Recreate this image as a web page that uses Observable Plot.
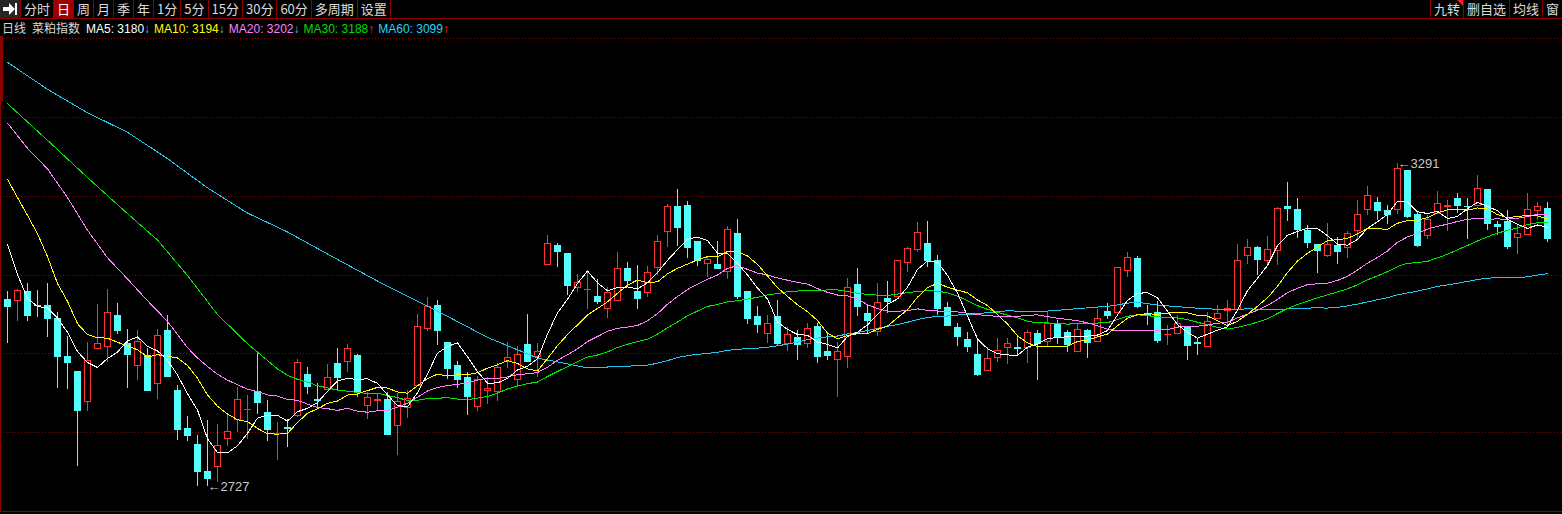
<!DOCTYPE html>
<html><head><meta charset="utf-8">
<script src="https://cdn.jsdelivr.net/npm/d3@7"></script>
<script src="https://cdn.jsdelivr.net/npm/@observablehq/plot@0.6"></script>
<style>
html,body{margin:0;padding:0;background:#000;width:1562px;height:514px;overflow:hidden;}
#toolbar{position:absolute;left:0;top:0;width:1562px;height:18px;border-bottom:1px solid #8c0000;box-sizing:content-box;font:13px "Noto Sans CJK SC","Liberation Sans",sans-serif;color:#dcdcdc;}
#tbLeft{position:absolute;left:0;top:0;height:18px;display:flex;}
#tbRight{position:absolute;right:0;top:0;height:18px;display:flex;}
.btn{height:18px;line-height:18px;padding:0 3px;border-right:1px solid #8c0000;white-space:nowrap;position:relative;}
.btn.sel{background:#a00000;color:#fff;}
#tbRight .btn{border-right:none;border-left:1px solid #8c0000;}
.tri{position:absolute;right:0;top:0;width:0;height:0;border-top:6px solid #ff2020;border-left:6px solid transparent;}
#legend{position:absolute;left:2px;top:19px;height:18px;line-height:18px;font:12px "Liberation Sans","Noto Sans CJK SC",sans-serif;color:#d8d8d8;white-space:nowrap;}
#legend .cn{font:12px "Noto Sans CJK SC",sans-serif;margin-right:6px;}
#legend .ma{margin-right:4px;}
#chart{position:absolute;left:0;top:36px;}
#frameL{position:absolute;left:0;top:36px;width:1px;height:476px;background:#8c0000;}
#frameL2{position:absolute;left:0;top:36px;width:3px;height:65px;background:#8c0000;}
#frameB{position:absolute;left:0;top:511px;width:1562px;height:1px;background:#8c0000;}
</style></head>
<body>
<div id="toolbar"><div id="tbLeft"></div><div id="tbRight"></div></div>
<div id="legend"></div>
<div id="chart"></div>
<div id="frameL"></div><div id="frameL2"></div><div id="frameB"></div>
<script>
// ---------- data ----------
const periodLabels = ["分时","日","周","月","季","年","1分","5分","15分","30分","60分","多周期","设置"];
const selectedPeriod = "日";
const rightLabels = ["九转","删自选","均线","窗"];
const chartTitle = ["日线","菜粕指数"];
const maNames = ["MA5","MA10","MA20","MA30","MA60"];
const maLast = [3180, 3194, 3202, 3188, 3099];
const maTrend = ["down","down","down","up","up"];

const opens = [3054,3051,3068,3043,3042,3021,2953,2927,2875,2967,2971,3025,2976,2938,2956,2907,3000,2895,2829,2801,
2754,2762,2811,2844,2861,2893,2856,2819,2830,2851,2923,2879,2897,2941,2945,2955,2868,2877,2879,2834,
2865,2903,3002,3042,2979,2939,2918,2866,2894,2892,2945,2914,2974,2953,3115,3148,3134,3075,3070,3058,
3038,3052,3108,3068,3065,3110,3172,3216,3218,3154,3116,3115,3102,3169,3068,3023,2994,3023,2976,2987,
2976,3007,2963,2949,2953,3080,3029,2998,3055,3058,3118,3141,3151,3122,3040,3004,2984,2958,2929,2952,
2970,2970,2970,2994,2980,3012,2995,2962,3000,2980,3033,3030,3104,3124,3028,3030,2992,2994,3006,2979,
2971,3020,3034,3036,3130,3144,3121,3138,3216,3211,3173,3150,3130,3148,3144,3174,3210,3222,3209,3211,
3279,3201,3165,3204,3215,3229,3216,3217,3246,3185,3189,3162,3167,3209,3212];
const highs = [3068,3072,3082,3070,3082,3031,2990,2927,2979,3045,3072,3048,3002,3000,2968,3002,3026,2904,2850,2817,
2843,2836,2853,2901,2887,2960,2878,2840,2844,2949,2935,2907,2941,2968,2976,2959,2892,2888,2892,2891,
2895,3028,3057,3052,2979,2946,2927,2920,2918,2942,2980,2973,3028,2977,3166,3152,3134,3097,3104,3089,
3075,3136,3119,3113,3111,3166,3220,3246,3225,3154,3130,3155,3182,3193,3068,3042,3027,3052,3006,3000,
3012,3012,2994,2979,3090,3108,3044,3082,3086,3123,3145,3188,3190,3131,3049,3012,2996,2986,2971,2986,
2986,2991,3000,3000,3033,3018,3000,3013,3002,3037,3047,3110,3136,3129,3044,3051,3009,3027,3006,2986,
3032,3044,3052,3150,3159,3147,3164,3214,3258,3230,3183,3150,3187,3162,3172,3227,3252,3233,3218,3291,
3279,3208,3200,3243,3227,3240,3230,3271,3246,3190,3209,3183,3240,3224,3223];
const lows = [2978,3015,3016,3023,2988,2898,2897,2763,2858,2967,2945,2993,2898,2912,2894,2879,2919,2808,2807,2728,
2727,2734,2798,2822,2810,2853,2806,2773,2796,2849,2888,2866,2895,2895,2926,2883,2844,2858,2817,2782,
2846,2903,2999,2974,2914,2899,2852,2859,2871,2877,2933,2900,2945,2918,3115,3110,3061,3066,3037,3045,
3021,3052,3079,3037,3057,3096,3145,3147,3125,3112,3093,3108,3089,3054,3011,2995,2977,2972,2964,2947,
2968,2943,2947,2883,2934,3025,2994,2990,3029,3058,3102,3137,3110,3026,3008,2973,2961,2919,2929,2944,
2940,2956,2943,2912,2971,2975,2962,2962,2952,2980,3019,3030,3093,3039,3009,2977,2974,2994,2947,2956,
2971,3020,3009,3036,3116,3096,3112,3113,3191,3161,3144,3099,3128,3115,3126,3157,3201,3192,3185,3202,
3195,3145,3158,3204,3172,3204,3158,3217,3174,3165,3141,3133,3167,3192,3153];
const closes = [3041,3069,3026,3042,3020,2953,2943,2859,2946,2977,3031,2999,2957,2980,2895,2991,2919,2827,2816,2753,
2741,2799,2823,2879,2862,2873,2826,2820,2829,2944,2902,2877,2918,2918,2968,2892,2883,2878,2817,2875,
2881,3007,3041,2999,2933,2913,2884,2913,2898,2935,2952,2958,2945,2963,3151,3137,3077,3083,3071,3049,
3066,3108,3086,3055,3101,3155,3216,3179,3144,3122,3123,3108,3176,3058,3020,3009,3012,2976,2993,2975,
3003,2953,2955,2962,3075,3041,3016,3048,3049,3122,3143,3171,3122,3037,3008,2988,2971,2923,2951,2965,
2977,2967,2996,2977,3012,2987,2974,3001,2978,3021,3026,3110,3127,3041,3026,2981,2993,3011,2973,2976,
3015,3029,3038,3122,3144,3123,3141,3212,3212,3176,3152,3138,3150,3137,3168,3202,3234,3208,3201,3282,
3198,3147,3193,3221,3218,3217,3215,3247,3186,3180,3145,3169,3211,3216,3159];

const ma5HeadIdx = [0,1,2,3];
const ma5HeadVal = [3150,3098,3056,3042];
const ma10HeadIdx = [0,1,2,3,4,5,6,7,8];
const ma10HeadVal = [3264,3232,3201,3169,3129,3082,3051,3012,2993];
const ma20HeadIdx = [0,2,4,6,8,10,12,14,16,18];
const ma20HeadVal = [3362,3318,3282,3232,3175,3127,3090,3052,3016,2970];
const ma30HeadIdx = [0,4,8,12,15,18,21,24,27,28];
const ma30HeadVal = [3396,3332,3267,3204,3158,3096,3028,2977,2933,2922];
const ma60HeadIdx = [0,4,8,12,16,20,24,28,33,38,43,48,53,58];
const ma60HeadVal = [3468,3421,3380,3346,3300,3249,3205,3172,3124,3077,3034,2988,2952,2935];

const gridLevels = [2821.5, 2959.1, 3096.7, 3234.3, 3371.9, 3509.5];

// ---------- styling ----------
const RED = "#ff3232", CYAN = "#54fcfc";
const maColors = ["#ffffff","#ffff00","#ff80ff","#00e600","#22c8f0"];
const legendColors = ["#ffffff","#ffff00","#ff80ff","#00dd00","#22d8f8"];

// ---------- toolbar ----------
const tbL = document.getElementById("tbLeft");
const icon = document.createElement("div");
icon.className = "btn";
icon.style.padding = "0";
icon.style.width = "20px";
icon.style.background = "#262626";
icon.innerHTML = '<svg width="20" height="18"><polygon points="3,7 9,7 9,3 15,9 9,15 9,11 3,11" fill="#fff"/><rect x="15" y="3" width="2" height="12" fill="#fff"/></svg>';
tbL.appendChild(icon);
periodLabels.forEach(l => {
  const b = document.createElement("div");
  b.className = "btn" + (l === selectedPeriod ? " sel" : "");
  b.textContent = l;
  tbL.appendChild(b);
});
const tbR = document.getElementById("tbRight");
rightLabels.forEach((l, k) => {
  const b = document.createElement("div");
  b.className = "btn";
  b.textContent = l;
  if (k === 0) { const t = document.createElement("div"); t.className = "tri"; b.appendChild(t); }
  tbR.appendChild(b);
});

// ---------- legend ----------
const lg = document.getElementById("legend");
chartTitle.forEach(t => { const s = document.createElement("span"); s.className = "cn"; s.textContent = t; lg.appendChild(s); });
maNames.forEach((n, k) => {
  const s = document.createElement("span");
  s.className = "ma";
  s.style.color = legendColors[k];
  s.textContent = n + ": " + maLast[k];
  const a = document.createElement("span");
  a.textContent = maTrend[k] === "up" ? "↑" : "↓";
  a.style.color = maTrend[k] === "up" ? "#ff2a2a" : "#40c8e0";
  s.appendChild(a);
  lg.appendChild(s);
});

// ---------- chart ----------
const candles = closes.map((c, i) => ({i, open: opens[i], high: highs[i], low: lows[i], close: c, up: c >= opens[i]}));

function movingAvg(n, headIdx, headVal) {
  const pts = headIdx.map((i, k) => ({i, v: headVal[k]}));
  for (let i = n - 1; i < closes.length; i++) pts.push({i, v: d3.mean(closes.slice(i - n + 1, i + 1))});
  return pts;
}
const maSeries = [
  movingAvg(5, ma5HeadIdx, ma5HeadVal),
  movingAvg(10, ma10HeadIdx, ma10HeadVal),
  movingAvg(20, ma20HeadIdx, ma20HeadVal),
  movingAvg(30, ma30HeadIdx, ma30HeadVal),
  movingAvg(60, ma60HeadIdx, ma60HeadVal)
];

const hiI = d3.maxIndex(highs), loI = d3.minIndex(lows);
const notes = [
  {i: hiI, v: highs[hiI], label: "←" + highs[hiI]},
  {i: loI, v: lows[loI], label: "←" + lows[loI]}
];

const chart = Plot.plot({
  width: 1562,
  height: 478,
  margin: 0,
  x: {type: "linear", domain: [-0.7, 155.5], axis: null},
  y: {type: "linear", domain: [2679, 3513.1], axis: null},
  style: {background: "#000", overflow: "visible"},
  marks: [
    Plot.ruleY(gridLevels, {stroke: "#8c0000", strokeDasharray: "1,2", strokeWidth: 1, shapeRendering: "crispEdges"}),
    Plot.ruleX(candles, {x: "i", y1: "low", y2: "high", stroke: d => d.up ? RED : CYAN, strokeWidth: 1, shapeRendering: "crispEdges"}),
    Plot.rect(candles, {x1: d => d.i - 0.3, x2: d => d.i + 0.3, y1: "open", y2: "close",
      fill: d => d.up ? "#000" : CYAN, stroke: d => d.up ? RED : CYAN, strokeWidth: 1, shapeRendering: "crispEdges"}),
    ...[4,3,2,1,0].map(k => Plot.line(maSeries[k], {x: "i", y: "v", stroke: maColors[k], strokeWidth: 1, shapeRendering: "crispEdges"})),
    Plot.text(notes, {x: "i", y: "v", text: "label", textAnchor: "start", lineAnchor: "middle",
      fill: "#c8c8c8", fontSize: 13, fontFamily: "Liberation Sans, sans-serif"})
  ]
});
document.getElementById("chart").appendChild(chart);
</script>
</body></html>
